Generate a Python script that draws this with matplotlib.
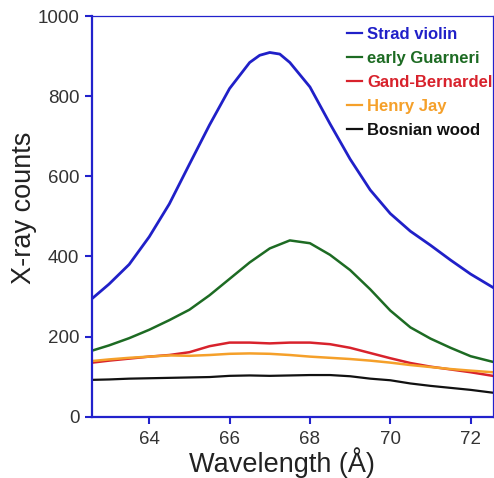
import matplotlib
matplotlib.use("Agg")
import matplotlib.pyplot as plt

wavelength = [62.58, 63.0, 63.5, 64.0, 64.5, 65.0, 65.5, 66.0, 66.5, 67.0, 67.5,
              68.0, 68.5, 69.0, 69.5, 70.0, 70.5, 71.0, 71.5, 72.0, 72.55]

strad_wl = [62.58, 63.0, 63.5, 64.0, 64.5, 65.0, 65.5, 66.0, 66.5, 66.75, 67.0,
            67.25, 67.5, 68.0, 68.5, 69.0, 69.5, 70.0, 70.5, 71.0, 71.5, 72.0, 72.55]
strad = [295, 331, 380, 449, 531, 630, 728, 819, 884, 902, 909,
         905, 884, 823, 731, 643, 566, 507, 463, 428, 391, 356, 323]

guarneri = [165, 178, 196, 217, 241, 267, 303, 344, 385, 420, 440,
            433, 404, 366, 318, 265, 223, 195, 172, 151, 137]
gand = [135, 140, 145, 150, 154, 161, 176, 185, 185, 183, 185,
        185, 181, 172, 159, 146, 134, 125, 118, 111, 102]
henry = [139, 143, 147, 150, 153, 152, 154, 157, 158, 157, 154,
         150, 147, 144, 140, 135, 129, 124, 119, 115, 111]
bosnian = [92, 93, 95, 96, 97, 98, 99, 102, 103, 102, 103,
           104, 104, 101, 95, 91, 83, 77, 72, 67, 60]

labels = ["Strad violin", "early Guarneri", "Gand-Bernardel", "Henry Jay", "Bosnian wood"]
colors = ["#2020c8", "#1d6b23", "#d8222c", "#f5a02a", "#111111"]

plt.rcParams['font.family'] = ['Liberation Sans', 'DejaVu Sans']

fig = plt.figure(figsize=(4.94, 4.78), dpi=100)
ax = fig.add_axes([0.1862, 0.1282, 0.8112, 0.8383])

ax.plot(strad_wl, strad, color=colors[0], lw=2.0, label=labels[0])
ax.plot(wavelength, guarneri, color=colors[1], lw=1.8, label=labels[1])
ax.plot(wavelength, gand, color=colors[2], lw=1.8, label=labels[2])
ax.plot(wavelength, henry, color=colors[3], lw=1.8, label=labels[3])
ax.plot(wavelength, bosnian, color=colors[4], lw=1.6, label=labels[4])

ax.set_xlim(62.575, 72.55)
ax.set_ylim(0, 1000)
ax.set_xticks([64, 66, 68, 70, 72])
ax.set_yticks([0, 200, 400, 600, 800, 1000])

spine_color = "#2222cc"
for side in ["left", "bottom"]:
    ax.spines[side].set_color(spine_color)
    ax.spines[side].set_linewidth(1.6)
for side in ["top", "right"]:
    ax.spines[side].set_color(spine_color)
    ax.spines[side].set_linewidth(0.9)

ax.tick_params(axis='both', direction='out', length=5, width=1.5, color=spine_color,
               labelsize=13.5, labelcolor="#333333", pad=4)
ax.tick_params(axis='x', pad=5)

ax.set_xlabel("Wavelength (Å)", fontsize=19.5, color="#222222", labelpad=0)
ax.xaxis.label.set_x(0.474)
ax.set_ylabel("X-ray counts", fontsize=19.5, color="#222222")
ax.yaxis.set_label_coords(-0.137, 0.521)

leg = ax.legend(loc="upper right", bbox_to_anchor=(1.0, 0.972), frameon=False, fontsize=12,
                handlelength=0.9, handletextpad=0.3, labelspacing=0.54,
                borderaxespad=0.0, borderpad=0.0)
for text, c in zip(leg.get_texts(), colors):
    text.set_color(c)
    text.set_fontweight("bold")
for line in leg.get_lines():
    line.set_linewidth(1.6)

fig.savefig("out.png", dpi=100)
